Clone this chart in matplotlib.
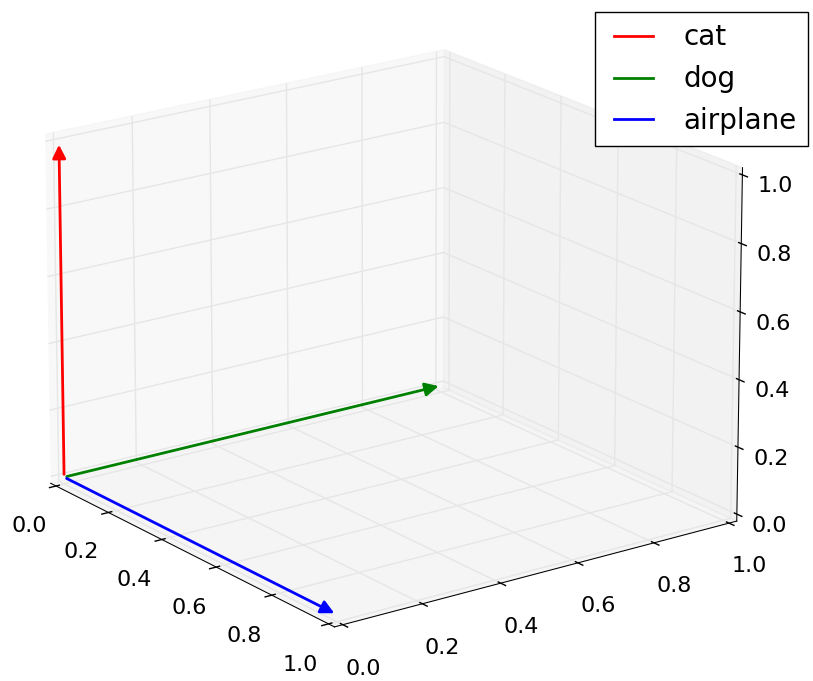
import matplotlib
matplotlib.use('Agg')
import matplotlib.pyplot as plt
from matplotlib.patches import FancyArrowPatch
from matplotlib.lines import Line2D
from mpl_toolkits.mplot3d import proj3d
import numpy as np

# datos
etiquetas = ['cat', 'dog', 'airplane']
colores = ['red', 'green', 'blue']
origen = [0.0, 0.0, 0.0]
vec_x = [0.0, 0.0, 1.0]
vec_y = [0.0, 1.0, 0.0]
vec_z = [1.0, 0.0, 0.0]
ticks = [0.0, 0.2, 0.4, 0.6, 0.8, 1.0]


class Arrow3D(FancyArrowPatch):
    def __init__(self, xs, ys, zs, *args, **kwargs):
        super().__init__((0, 0), (0, 0), *args, **kwargs)
        self._verts3d = xs, ys, zs

    def do_3d_projection(self, renderer=None):
        xs3d, ys3d, zs3d = self._verts3d
        xs, ys, zs = proj3d.proj_transform(xs3d, ys3d, zs3d, self.axes.M)
        self.set_positions((xs[0], ys[0]), (xs[1], ys[1]))
        return np.min(zs)


plt.style.use('classic')
plt.rcParams['figure.facecolor'] = 'white'
plt.rcParams['font.size'] = 16

fig = plt.figure(figsize=(8.13, 6.81), dpi=100)
ax = fig.add_axes([-0.015, 0.005, 0.97, 1.0], projection='3d')

for i in range(len(etiquetas)):
    a = Arrow3D([origen[0], vec_x[i]], [origen[1], vec_y[i]], [origen[2], vec_z[i]],
                mutation_scale=20, lw=2, arrowstyle='-|>', color=colores[i])
    ax.add_artist(a)

# margen como en las versiones viejas de mplot3d (1/48 del rango)
pad = 1.0 / 48
ax.set_xlim(0 - pad, 1 + pad)
ax.set_ylim(0 - pad, 1 + pad)
ax.set_zlim(0 - pad, 1 + pad)
ax.set_xticks(ticks)
ax.set_yticks(ticks)
ax.set_zticks(ticks)
ax.tick_params(axis='x', pad=9)
ax.tick_params(axis='y', pad=9)
ax.set_proj_type('persp', focal_length=2)
ax.view_init(elev=19, azim=-36)
ax.set_box_aspect(None, zoom=1.13)

handles = [Line2D([], [], color=c, lw=2) for c in colores]
fig.legend(handles, etiquetas, loc='upper right', bbox_to_anchor=(0.994, 0.982),
           borderaxespad=0, fontsize=20)

fig.savefig('out.png', dpi=100)
